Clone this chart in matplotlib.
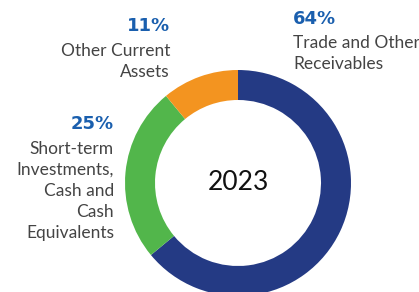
import matplotlib
matplotlib.use("Agg")
import matplotlib.pyplot as plt

categories = ["Trade and Other\nReceivables",
              "Short-term\nInvestments,\nCash and\nCash\nEquivalents",
              "Other Current\nAssets"]
values = [64, 25, 11]
pct_labels = ["64%", "25%", "11%"]
colors = ["#243a84", "#52b64b", "#f39420"]
center_label = "2023"

W, H = 419, 292
fig = plt.figure(figsize=(W / 100, H / 100), dpi=100)
ax = fig.add_axes([0, 0, 1, 1])

cx, cy, r = 238, H - 183, 113
ax.pie(values, colors=colors, startangle=90, counterclock=False,
       center=(cx, cy), radius=r, frame=True,
       wedgeprops=dict(width=30, linewidth=0))
ax.set_xlim(0, W)
ax.set_ylim(0, H)
ax.set_aspect("equal")
ax.axis("off")

font = "Lato"
txt_color = "#444444"
pct_color = "#1a5fae"
# (x, ha, pct baseline, first label baseline) in image pixels
placements = [(293, "left", 24, 48), (114, "right", 129, 154), (170, "right", 31, 56)]
step = 21
for (x, ha, yp, yl), lab, pct in zip(placements, categories, pct_labels):
    ax.text(x, H - yp, pct, ha=ha, va="baseline", fontsize=13,
            fontweight="bold", color=pct_color, family="DejaVu Sans")
    for i, line in enumerate(lab.split("\n")):
        ax.text(x, H - (yl + i * step), line, ha=ha, va="baseline",
                fontsize=12.5, color=txt_color, family=font)

ax.text(cx, H - 183, center_label, ha="center", va="center",
        fontsize=19, color="#111111", family=font)

fig.savefig("out.png", dpi=100)
